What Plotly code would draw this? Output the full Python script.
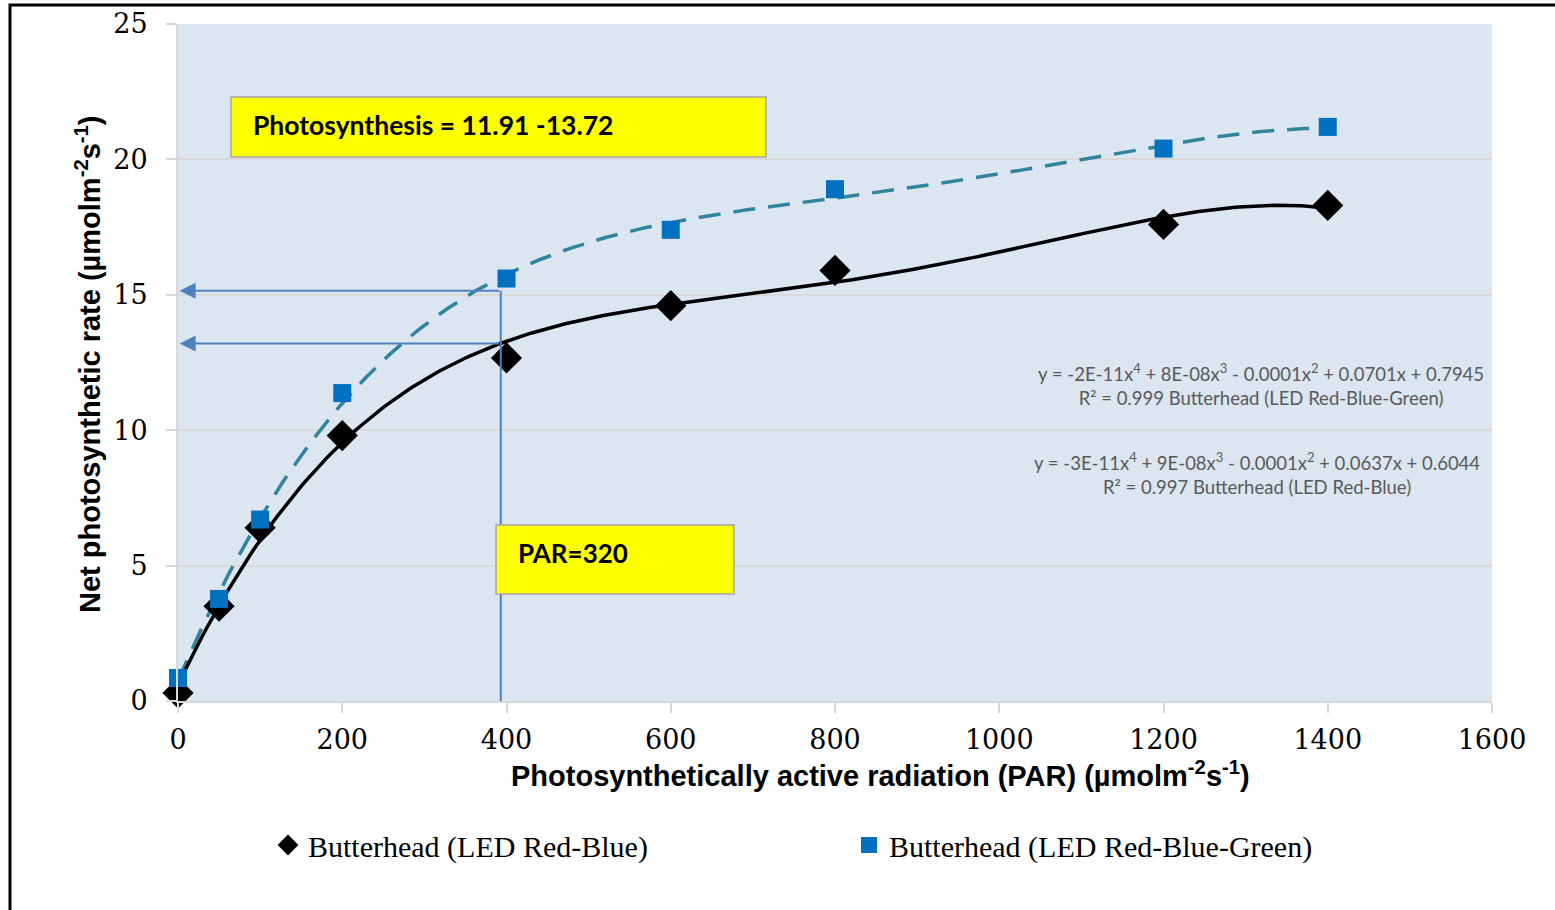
import numpy as np
import plotly.graph_objects as go

# Light response data (PAR in µmol m-2 s-1, net photosynthesis)
par = [0, 50, 100, 200, 400, 600, 800, 1200, 1400]
rate_red_blue = [0.3, 3.5, 6.4, 9.8, 12.67, 14.6, 15.9, 17.6, 18.3]
rate_red_blue_green = [0.85, 3.77, 6.7, 11.37, 15.6, 17.4, 18.9, 20.4, 21.2]

series_names = ["Butterhead (LED Red-Blue)", "Butterhead (LED Red-Blue-Green)"]
x_ticks = [0, 200, 400, 600, 800, 1000, 1200, 1400, 1600]
y_ticks = [0, 5, 10, 15, 20, 25]

eq_rbg = "y = -2E-11x<sup>4</sup> + 8E-08x<sup>3</sup> - 0.0001x<sup>2</sup> + 0.0701x + 0.7945<br>R² = 0.999 Butterhead (LED Red-Blue-Green)"
eq_rb = "y = -3E-11x<sup>4</sup> + 9E-08x<sup>3</sup> - 0.0001x<sup>2</sup> + 0.0637x + 0.6044<br>R² = 0.997 Butterhead (LED Red-Blue)"

# Guide arrows
guide_par = 393
guide_rates = [15.15, 13.2]

# Plot-area geometry (px) used to place paper-referenced decorations
W, H = 1555, 910
L, R, T, B = 178, 63, 24, 209
PW, PH = W - L - R, H - T - B


def px(xp):
    return (xp - L) / PW


def py(yp):
    return (H - B - yp) / PH


# 4th-order polynomial trendlines
xs = np.linspace(0, 1400, 300)
fit_rb = np.polyval(np.polyfit(par, rate_red_blue, 4), xs)
fit_rbg = np.polyval(np.polyfit(par, rate_red_blue_green, 4), xs)

fig = go.Figure()
fig.add_trace(go.Scatter(x=xs, y=fit_rbg, mode="lines", showlegend=False,
                         line=dict(color="#31849B", width=3.5, dash="22px,13px"),
                         hoverinfo="skip"))
fig.add_trace(go.Scatter(x=xs, y=fit_rb, mode="lines", showlegend=False,
                         line=dict(color="black", width=3.5), hoverinfo="skip"))
fig.add_trace(go.Scatter(x=par, y=rate_red_blue, mode="markers", name=series_names[0],
                         marker=dict(symbol="diamond", size=24, color="black"),
                         cliponaxis=False))
fig.add_trace(go.Scatter(x=par, y=rate_red_blue_green, mode="markers", name=series_names[1],
                         marker=dict(symbol="square", size=18, color="#0070C0"),
                         cliponaxis=False))

shapes = []
annotations = []


def note(x, y, text, size, family="Lato", color="black", **kw):
    a = dict(x=px(x), y=py(y), xref="paper", yref="paper", showarrow=False,
             xanchor="center", yanchor="middle", text=text,
             font=dict(family=family, size=size, color=color))
    a.update(kw)
    annotations.append(a)


# Vertical guide line at the chosen PAR
shapes.append(dict(type="line", xref="x", yref="y", x0=guide_par, x1=guide_par,
                   y0=0, y1=guide_rates[0], line=dict(color="#4F81BD", width=2)))
# Horizontal arrows to the y axis
for yr in guide_rates:
    annotations.append(dict(x=2, y=yr, ax=guide_par, ay=yr, xref="x", yref="y",
                            axref="x", ayref="y", showarrow=True, arrowhead=2,
                            arrowsize=1.6, arrowwidth=2, arrowcolor="#4F81BD", text=""))

# Yellow callout boxes
shapes.append(dict(type="rect", xref="paper", yref="paper", x0=px(231), x1=px(766),
                   y0=py(157), y1=py(97), fillcolor="#FFFF00",
                   line=dict(color="#A6A6A6", width=1.5)))
shapes.append(dict(type="rect", xref="paper", yref="paper", x0=px(496), x1=px(734),
                   y0=py(594), y1=py(525), fillcolor="#FFFF00",
                   line=dict(color="#A6A6A6", width=1.5)))
note(251, 125, "<b>Photosynthesis = 11.91 -13.72</b>", 26.5, xanchor="left")
note(516, 553, "<b>PAR=320</b>", 26, xanchor="left")

# Trendline equations
note(1261, 384, eq_rbg, 18.5, color="#595959", align="center")
note(1257, 473, eq_rb, 18.5, color="#595959", align="center")

# Axis titles
note(88, 364, "<b>Net photosynthetic rate (µmolm<sup>-2</sup>s<sup>-1</sup>)</b>", 29,
     family="Liberation Sans", textangle=-90)
note(880, 774, "<b>Photosynthetically active radiation (PAR) (µmolm<sup>-2</sup>s<sup>-1</sup>)</b>",
     29, family="Liberation Sans")

# Outer chart frame
shapes.append(dict(type="rect", xref="paper", yref="paper", x0=px(10), x1=px(1570),
                   y0=py(930), y1=py(5), line=dict(color="black", width=3),
                   fillcolor="rgba(0,0,0,0)", layer="above"))

fig.update_layout(
    width=W, height=H,
    margin=dict(l=L, r=R, t=T, b=B, autoexpand=False),
    paper_bgcolor="white",
    plot_bgcolor="#DCE6F1",
    shapes=shapes,
    annotations=annotations,
    legend=dict(orientation="h", x=px(268), y=py(845), xanchor="left", yanchor="middle",
                font=dict(family="Liberation Serif", size=30, color="black"),
                entrywidth=536, itemsizing="trace", bgcolor="rgba(0,0,0,0)"),
    xaxis=dict(range=[0, 1600], tickvals=x_ticks, ticks="outside", ticklen=10,
               tickcolor="#D9D9D9", tickwidth=2, showgrid=False, zeroline=False,
               showline=True, linecolor="#D9D9D9", linewidth=2,
               tickfont=dict(family="DejaVu Serif", size=27, color="black"),
               ticklabelstandoff=4),
    yaxis=dict(range=[0, 25], tickvals=y_ticks, ticks="outside", ticklen=10,
               tickcolor="#D9D9D9", tickwidth=2, showgrid=True, gridcolor="#D9D9D9",
               gridwidth=2, zeroline=False, showline=True, linecolor="#D9D9D9",
               linewidth=2, tickfont=dict(family="DejaVu Serif", size=27, color="black"),
               ticklabelstandoff=13),
)

fig.write_html("out.html")
